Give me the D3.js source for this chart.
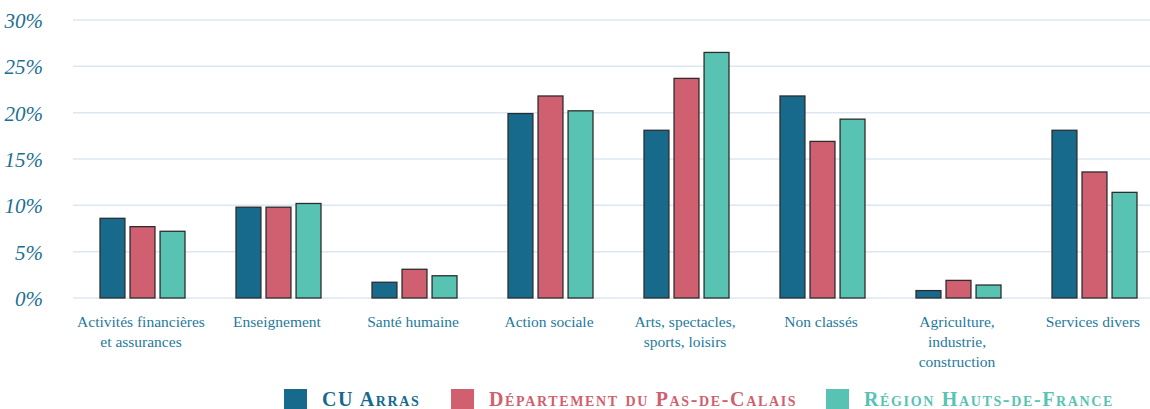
<!DOCTYPE html>
<html>
<head>
<meta charset="utf-8">
<script src="https://cdn.jsdelivr.net/npm/d3@7"></script>
<style>
  body { margin: 0; background: #fff; }
  svg { display: block; }
</style>
</head>
<body>
<svg id="chart" width="1150" height="409"></svg>
<script>
// secteurs (libellés sur plusieurs lignes)
var categories = [
  ["Activités financières", "et assurances"],
  ["Enseignement"],
  ["Santé humaine"],
  ["Action sociale"],
  ["Arts, spectacles,", "sports, loisirs"],
  ["Non classés"],
  ["Agriculture,", "industrie,", "construction"],
  ["Services divers"]
];
var series = ["CU Arras", "Département du Pas-de-Calais", "Région Hauts-de-France"];
var cuArras = [8.6, 9.8, 1.7, 19.9, 18.1, 21.8, 0.8, 18.1];
var pasDeCalais = [7.7, 9.8, 3.1, 21.8, 23.7, 16.9, 1.9, 13.6];
var hautsDeFrance = [7.2, 10.2, 2.4, 20.2, 26.5, 19.3, 1.4, 11.4];
var yTicks = [0, 5, 10, 15, 20, 25, 30];
var colors = ["#176a8c", "#d05f70", "#59c3b3"];

var svg = d3.select("#chart");
var values = [cuArras, pasDeCalais, hautsDeFrance];

var x = d3.scaleBand()
  .domain(d3.range(categories.length))
  .range([73, 1161])
  .paddingInner(0)
  .paddingOuter(0);

var x1 = d3.scaleBand()
  .domain(d3.range(series.length))
  .range([27, 112])
  .paddingInner(0.17);

var y = d3.scaleLinear()
  .domain([0, 30])
  .range([298, 20]);

// grille
svg.append("g")
  .selectAll("line")
  .data(yTicks)
  .join("line")
    .attr("x1", 73)
    .attr("x2", 1150)
    .attr("y1", d => y(d))
    .attr("y2", d => y(d))
    .attr("stroke", "#dbe8f1")
    .attr("stroke-width", 1.5);

// axe y
var yAxis = svg.append("g")
  .attr("transform", "translate(43,0)")
  .call(d3.axisLeft(y).tickValues(yTicks).tickSize(0).tickPadding(0).tickFormat(d => d + "%"));
yAxis.select(".domain").remove();
yAxis.selectAll("text")
  .attr("fill", "#1b6f93")
  .attr("font-family", "Liberation Serif")
  .attr("font-style", "italic")
  .attr("font-size", 21)
  .attr("dy", "0.35em");

// barres
var groups = svg.append("g")
  .selectAll("g")
  .data(categories)
  .join("g")
    .attr("transform", (d, i) => `translate(${x(i)},0)`);

groups.selectAll("rect")
  .data((d, i) => values.map((s, k) => ({k: k, v: s[i]})))
  .join("rect")
    .attr("x", d => x1(d.k))
    .attr("width", x1.bandwidth())
    .attr("y", d => y(d.v))
    .attr("height", d => y(0) - y(d.v))
    .attr("fill", d => colors[d.k])
    .attr("stroke", "#2d2d2d")
    .attr("stroke-width", 1.3);

// libellés x
groups.append("text")
  .attr("text-anchor", "middle")
  .attr("font-family", "Liberation Serif")
  .attr("font-size", 15.5)
  .attr("fill", "#1f7a9d")
  .selectAll("tspan")
  .data(d => d)
  .join("tspan")
    .attr("x", x.bandwidth() / 2)
    .attr("y", (d, i) => 327 + i * 20)
    .text(d => d);

// légende
var legendX = [284, 451, 826];
var legend = svg.append("g")
  .selectAll("g")
  .data(series)
  .join("g")
    .attr("transform", (d, i) => `translate(${legendX[i]},389)`);

legend.append("rect")
  .attr("width", 23)
  .attr("height", 20)
  .attr("fill", (d, i) => colors[i]);

legend.append("text")
  .attr("x", 38)
  .attr("y", 17)
  .attr("font-family", "Liberation Serif")
  .attr("font-weight", "bold")
  .attr("font-size", 20)
  .attr("letter-spacing", 1.65)
  .attr("font-variant", "small-caps")
  .attr("fill", (d, i) => colors[i])
  .text(d => d);
</script>
</body>
</html>
